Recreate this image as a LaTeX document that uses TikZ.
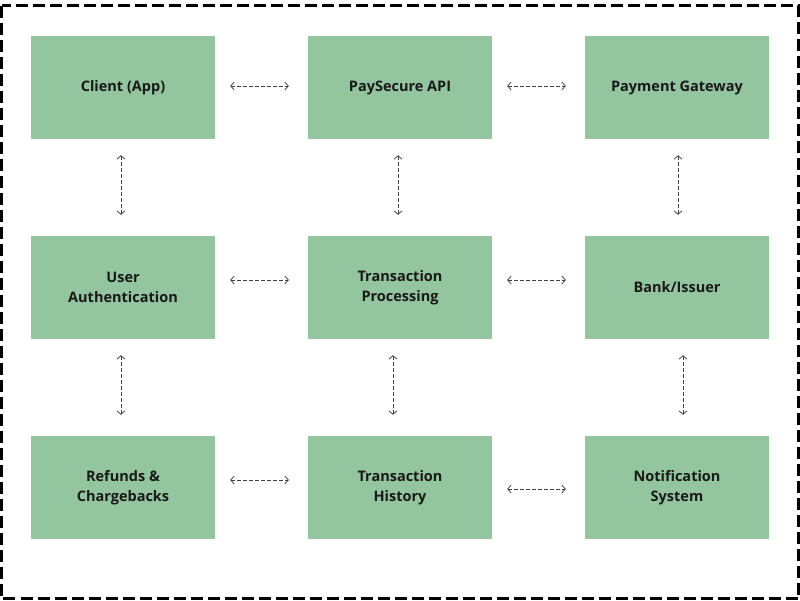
\documentclass[tikz,border=0pt]{standalone}
\usepackage{fontspec}
\setmainfont{Open Sans}
\usetikzlibrary{arrows.meta}
\definecolor{boxgreen}{HTML}{93C59E}
\tikzset{
  box/.style={fill=boxgreen, minimum width=184pt, minimum height=103pt, align=center,
    font=\bfseries\fontsize{14.5}{20}\selectfont, text=black!90},
  link/.style={draw=black!75, line width=0.75pt, dash pattern=on 3.5pt off 2.5pt,
    {Straight Barb[length=3.5pt,width=8pt]}-{Straight Barb[length=3.5pt,width=8pt]}}
}
\begin{document}
\begin{tikzpicture}[x=1pt,y=-1pt]
                \useasboundingbox (0,0) rectangle (800,600);
                \draw [line width=3pt, dash pattern=on 12pt off 5pt] (1.5,5.5) rectangle (798.5,598.5);
                \node [box] (client) at (123,87.5) {Client (App)};
                \node [box] (api) at (400,87.5) {PaySecure API};
                \node [box] (gateway) at (677,87.5) {Payment Gateway};
                \node [box] (auth) at (123,287.5) {User\\Authentication};
                \node [box] (proc) at (400,287.5) {Transaction\\Processing};
                \node [box] (bank) at (677,287.5) {Bank/Issuer};
                \node [box] (refund) at (123,487.5) {Refunds \&\\Chargebacks};
                \node [box] (hist) at (400,487.5) {Transaction\\History};
                \node [box] (notif) at (677,487.5) {Notification\\System};
                \draw [link] ([xshift=15pt,yshift=1.5pt]client.east) -- ([xshift=-19pt,yshift=1.5pt]api.west);
                \draw [link] ([xshift=15pt,yshift=1.5pt]api.east) -- ([xshift=-19pt,yshift=1.5pt]gateway.west);
                \draw [link] ([xshift=15pt,yshift=7.5pt]auth.east) -- ([xshift=-19pt,yshift=7.5pt]proc.west);
                \draw [link] ([xshift=15pt,yshift=7.5pt]proc.east) -- ([xshift=-19pt,yshift=7.5pt]bank.west);
                \draw [link] ([xshift=15pt,yshift=7.5pt]refund.east) -- ([xshift=-19pt,yshift=7.5pt]hist.west);
                \draw [link] ([xshift=15pt,yshift=-1.5pt]hist.east) -- ([xshift=-19pt,yshift=-1.5pt]notif.west);
                \draw [link] ([xshift=-2pt,yshift=-16pt]client.south) -- ([xshift=-2pt,yshift=21pt]auth.north);
                \draw [link] ([xshift=-2pt,yshift=-16pt]api.south) -- ([xshift=-2pt,yshift=21pt]proc.north);
                \draw [link] ([xshift=1pt,yshift=-16pt]gateway.south) -- ([xshift=1pt,yshift=21pt]bank.north);
                \draw [link] ([xshift=-2pt,yshift=-16pt]auth.south) -- ([xshift=-2pt,yshift=21pt]refund.north);
                \draw [link] ([xshift=-7pt,yshift=-16pt]proc.south) -- ([xshift=-7pt,yshift=21pt]hist.north);
                \draw [link] ([xshift=6pt,yshift=-16pt]bank.south) -- ([xshift=6pt,yshift=21pt]notif.north);
\end{tikzpicture}
\end{document}
